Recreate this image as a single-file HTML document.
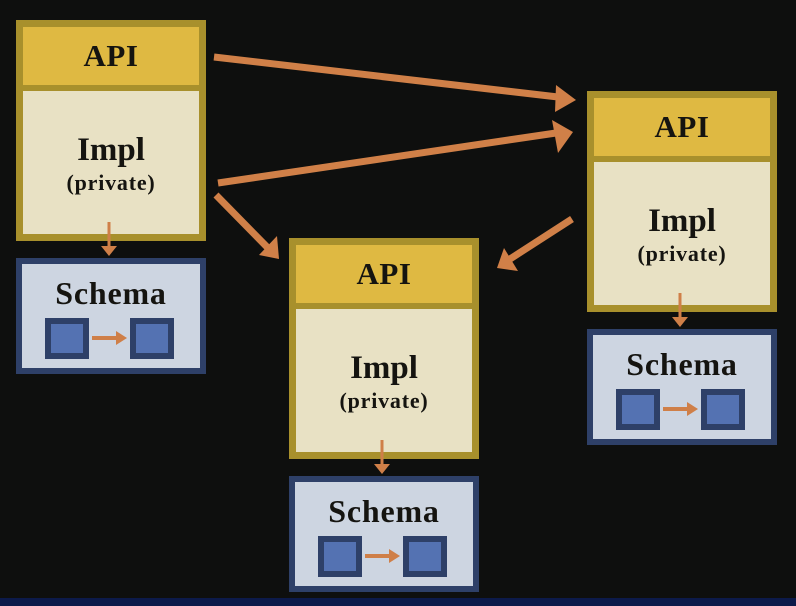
<!DOCTYPE html>
<html><head><meta charset="utf-8"><style>
html,body{margin:0;padding:0;background:#0e0f0e;}
svg{display:block}
text{font-family:"Liberation Serif",serif;font-weight:bold;fill:#151410;text-anchor:middle}
</style></head><body>
<svg width="796" height="606" viewBox="0 0 796 606" xmlns="http://www.w3.org/2000/svg">
<defs>
<g id="box">
  <rect x="0" y="0" width="190" height="221" fill="#a8902c"/>
  <rect x="7" y="7" width="176" height="58" fill="#dfb942"/>
  <rect x="7" y="71" width="176" height="143" fill="#e8e1c4"/>
  <text x="95" y="46" font-size="31" letter-spacing="0.5">API</text>
  <text x="95" y="140" font-size="33">Impl</text>
  <text x="95" y="170" font-size="22" letter-spacing="0.8">(private)</text>
  <line x1="93" y1="202" x2="93" y2="228" stroke="#cf7f48" stroke-width="3"/>
  <polygon points="85,226 101,226 93,236" fill="#cf7f48"/>
</g>
<g id="schema">
  <rect x="0" y="0" width="190" height="116" fill="#2e4068"/>
  <rect x="6" y="6" width="178" height="104" fill="#cdd5e1"/>
  <text x="95" y="46" font-size="32" letter-spacing="0.8">Schema</text>
  <rect x="29" y="60" width="44" height="41" fill="#2e4068"/>
  <rect x="35" y="66" width="32" height="29" fill="#5472b2"/>
  <rect x="114" y="60" width="44" height="41" fill="#2e4068"/>
  <rect x="120" y="66" width="32" height="29" fill="#5472b2"/>
  <line x1="76" y1="80" x2="102" y2="80" stroke="#cf7f48" stroke-width="4"/>
  <polygon points="100,73 111,80 100,87" fill="#cf7f48"/>
</g>
</defs>
<use href="#box" x="16" y="20"/>
<use href="#schema" x="16" y="258"/>
<use href="#box" x="289" y="238"/>
<use href="#schema" x="289" y="476"/>
<use href="#box" x="587" y="91"/>
<use href="#schema" x="587" y="329"/>
<g stroke="#d08048" stroke-width="7" fill="none" stroke-linecap="butt">
  <line x1="214" y1="57" x2="558" y2="97"/>
  <line x1="218" y1="183" x2="556" y2="133"/>
  <line x1="216" y1="195" x2="268" y2="248"/>
  <line x1="572" y1="219" x2="510" y2="259"/>
</g>
<g fill="#d08048">
  <polygon points="556,85 576,100 555,112"/>
  <polygon points="552,120 573,132 558,153"/>
  <polygon points="259,255 279,259 277,236"/>
  <polygon points="497,268 518,271 504,248"/>
</g>
<rect x="0" y="598" width="796" height="8" fill="#0c1a4a"/>
</svg>
</body></html>
